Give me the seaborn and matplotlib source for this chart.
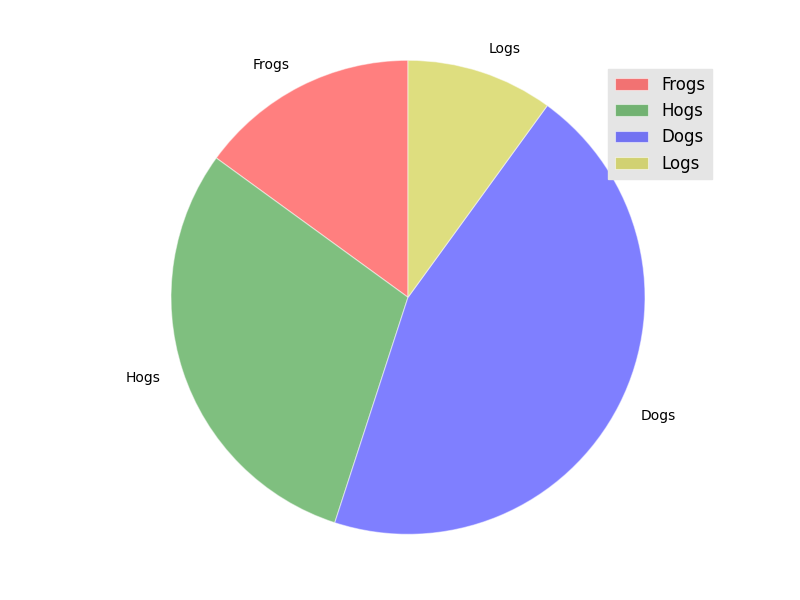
import matplotlib
matplotlib.use("Agg")
import matplotlib.pyplot as plt
import seaborn as sns

sns.set_style("white")
plt.rcParams['font.family'] = ['DejaVu Sans']
plt.rcParams['text.color'] = 'black'

labels = ["Frogs", "Hogs", "Dogs", "Logs"]
sizes = [15, 30, 45, 10]
colors = ["#ff0000", "#008000", "#0000ff", "#bfbf00"]

fig = plt.figure(figsize=(8, 6), dpi=100)
ax = fig.add_axes([0.05, 0.07, 0.92, 0.869])
wedges, texts = ax.pie(sizes, labels=labels, colors=colors, startangle=90,
                       wedgeprops=dict(alpha=0.5, edgecolor="white", linewidth=0.8),
                       textprops=dict(fontsize=10, color="black"))
ax.axis("equal")
ax.set_ylim(-1.1, 1.1)
leg = ax.legend(wedges, labels, loc="upper right", fontsize=12,
                bbox_to_anchor=(712 / 800, 1 - 69 / 600), bbox_transform=fig.transFigure,
                borderaxespad=0, frameon=True, facecolor="#e5e5e5", edgecolor="#e5e5e5",
                framealpha=1, fancybox=False)
for t in leg.get_texts():
    t.set_color("black")
fig.savefig("out.png", dpi=100)
